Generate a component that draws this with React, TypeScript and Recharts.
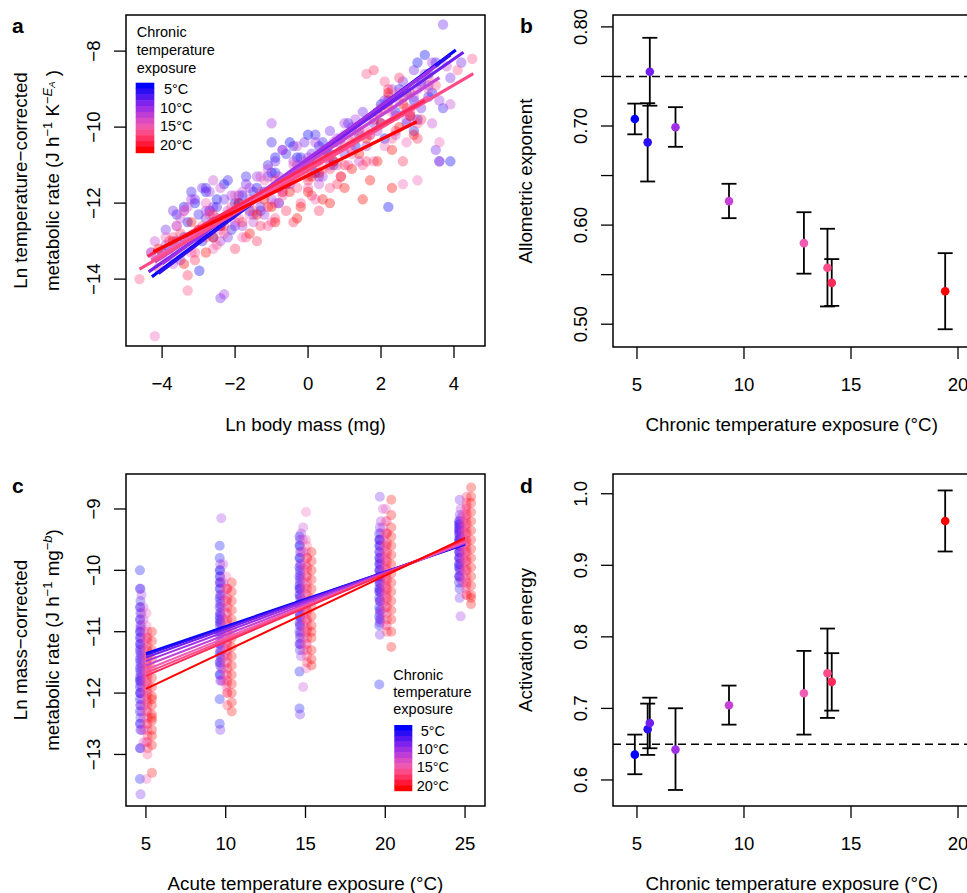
import React from 'react';
import { ScatterChart, Scatter, XAxis, YAxis, ReferenceArea, ReferenceLine, ErrorBar } from 'recharts';

const FONT = '"Liberation Sans", Arial, Helvetica, sans-serif';
const TICK_FS = 18.6;
const TITLE_FS = 18.8;
const LEG_FS = 14.5;

// Chronic temperature of each population (°C) and its colour
const chronicTemps = [4.9, 5.5, 5.6, 6.8, 9.3, 12.8, 13.9, 14.1, 19.4];
const groupColors = ['#0000FF', '#2C0EF2', '#701FF0', '#A030E6', '#C442D4', '#F05CB4', '#FF4C88', '#FF2A5A', '#FF0000'];
const legendBands = ['#0000FF', '#2A0DF3', '#5516F0', '#7E22EE', '#A02FE4', '#BE3DD6', '#DA4CC4', '#EE58AE', '#FA4C8A', '#FF3262', '#FF1838', '#FF0000'];
const legendLabels = ['5°C', '10°C', '15°C', '20°C'];

// Panel a: ln body mass (x) vs ln temperature-corrected metabolic rate (y), pairs per population
const massPoints: number[][] = [
  [-4.0, -13.3, -3.6, -13.0, -3.3, -12.5, -3.1, -12.0, -2.98, -13.78, -2.9, -12.8, -2.7, -12.2, -2.5, -11.9, -2.4, -12.6, -2.1, -12.3, -1.8, -11.8, -1.4, -11.6, -1.0, -11.2, -0.6, -11.5, -0.3, -10.8, 0.0, -10.2, 0.2, -11.2, 0.5, -10.6, 0.9, -10.3, 2.2, -12.1, 2.4, -9.6, 2.7, -9.1, 3.0, -9.8, 3.3, -8.6, 3.6, -10.9, 3.9, -10.9, 3.2, -8.1,
    -3.4, -12.1, -3.2, -12.9, -2.8, -11.7, -2.6, -12.5, -2.3, -11.5, -2.0, -12.0, -1.6, -12.2, -1.2, -11.7, -0.9, -10.8, -0.5, -10.4, -0.2, -11.1, 0.3, -10.5, 0.7, -11.0, 1.3, -10.5, 2.0, -9.4, 2.9, -9.3, 3.4, -9.1, -0.8, -12.0, 3.0, -8.3, 2.1, -10.3],
  [-3.8, -13.2, -3.4, -12.9, -3.0, -12.3, -2.8, -11.6, -2.6, -12.9, -2.3, -12.4, -2.2, -11.4, -1.9, -12.0, -1.5, -11.7, -1.1, -11.0, -0.8, -11.6, -0.4, -10.5, 0.1, -11.0, 0.4, -10.4, 0.7, -10.9, 1.1, -9.9, 2.0, -9.9, 2.5, -9.0, 2.9, -10.1, 3.3, -9.2, 3.5, -8.3,
    -3.6, -12.3, -3.2, -11.7, -2.9, -13.0, -2.5, -12.1, -2.1, -12.7, -1.7, -11.3, -1.3, -12.2, -0.9, -11.2, -0.6, -10.7, -0.2, -10.8, 0.2, -10.2, 0.6, -10.7, 1.4, -10.2, 2.2, -9.3, 2.7, -9.9, 3.1, -8.8, 3.7, -9.5, -1.0, -10.4],
  [-4.3, -13.3, -3.9, -12.7, -3.5, -13.5, -3.1, -11.9, -2.8, -12.4, -2.4, -14.5, -2.3, -11.9, -2.0, -12.6, -1.7, -11.5, -1.3, -12.1, -0.9, -10.9, -0.5, -11.5, -0.1, -10.4, 0.3, -11.3, 0.6, -10.1, 1.0, -10.7, 1.5, -9.6, 2.1, -9.3, 2.6, -8.8, 3.1, -9.5, 3.7, -7.3, 4.2, -8.3, 3.5, -10.6,
    -3.7, -12.2, -3.3, -12.9, -2.9, -11.6, -2.6, -12.1, -2.2, -12.9, -1.9, -11.8, -1.5, -12.3, -1.1, -11.3, -0.7, -10.6, -0.3, -11.0, 0.1, -10.7, 0.8, -10.4, 1.2, -10.0, 1.8, -9.9, 2.4, -9.7, 2.9, -8.5, 3.3, -8.9, 3.9, -8.7],
  [-3.9, -13.1, -3.4, -12.2, -3.0, -12.9, -2.7, -11.7, -2.5, -12.4, -2.1, -11.8, -1.8, -12.6, -1.4, -11.3, -1.0, -11.9, -0.7, -10.6, -0.2, -11.1, 0.2, -10.4, 0.6, -11.0, 1.0, -9.9, 1.6, -10.5, 2.3, -9.0, 2.8, -9.7, 3.2, -8.6, 3.6, -9.3, -2.3, -14.4,
    -3.6, -12.6, -3.2, -11.9, -2.8, -12.2, -2.4, -13.0, -2.0, -12.2, -1.6, -11.6, -1.2, -12.3, -0.8, -11.3, -0.4, -10.9, 0.0, -10.8, 0.4, -11.3, 0.8, -10.3, 1.3, -9.8, 1.9, -10.1, 2.5, -9.3, 3.0, -9.0, 3.4, -8.3, -1.0, -9.9],
  [-4.2, -13.0, -3.7, -13.6, -3.3, -12.1, -2.9, -12.7, -2.6, -11.4, -2.2, -12.2, -1.8, -11.7, -1.5, -12.5, -1.1, -11.1, -0.7, -11.7, -0.3, -10.5, 0.1, -11.2, 0.5, -10.8, 1.0, -10.2, 1.4, -10.9, 1.9, -9.6, 2.4, -10.2, 2.9, -9.2, 3.4, -9.9, 3.8, -8.4, 3.6, -10.9,
    -3.5, -12.4, -3.1, -12.9, -2.7, -12.2, -2.4, -11.6, -2.0, -12.5, -1.6, -11.9, -1.3, -11.3, -0.9, -12.0, -0.5, -11.3, -0.1, -10.9, 0.3, -11.5, 0.7, -10.4, 1.2, -10.6, 1.7, -10.2, 2.2, -9.2, 2.7, -9.8, 3.1, -8.9, 3.9, -9.4],
  [-4.3, -13.3, -4.2, -15.5, -3.6, -12.6, -3.2, -13.3, -2.8, -12.0, -2.4, -12.7, -2.0, -11.8, -1.6, -12.3, -1.2, -11.4, -0.8, -12.0, -0.4, -11.0, 0.0, -11.6, 0.4, -10.6, 0.9, -11.3, 1.3, -10.3, 1.8, -10.9, 2.3, -9.6, 2.7, -10.4, 3.0, -11.4, 3.3, -9.0, 3.6, -10.4,
    -3.9, -12.9, -3.4, -12.2, -3.0, -12.7, -2.6, -13.2, -2.2, -12.3, -1.8, -12.9, -1.4, -11.9, -1.0, -12.5, -0.6, -11.5, -0.2, -11.2, 0.2, -11.9, 0.6, -10.9, 1.1, -11.0, 1.6, -10.1, 2.1, -10.5, 2.5, -9.1, 2.9, -9.8, 2.6, -11.5],
  [-4.62, -14.0, -4.0, -13.4, -3.3, -14.3, -2.9, -12.6, -2.5, -13.1, -2.1, -12.1, -1.7, -12.9, -1.3, -11.7, -0.9, -12.4, -0.5, -11.3, -0.2, -12.0, 0.2, -10.8, 0.6, -11.6, 1.0, -10.5, 1.5, -11.0, 1.9, -9.6, 2.3, -10.3, 2.6, -9.2, 3.0, -9.9, 3.5, -8.9, 4.1, -8.5, 4.5, -8.2, 2.1, -8.8,
    -3.7, -12.9, -3.1, -13.3, -2.7, -12.3, -2.3, -12.8, -1.9, -12.4, -1.5, -12.2, -1.1, -12.6, -0.7, -11.8, -0.3, -11.6, 0.0, -11.3, 0.4, -11.1, 0.8, -11.0, 1.2, -10.7, 1.7, -10.2, 2.2, -9.5, 2.8, -9.6, 3.3, -8.7, 1.6, -8.6],
  [-4.1, -13.7, -3.5, -12.8, -3.1, -13.5, -2.6, -12.3, -2.0, -13.2, -1.6, -12.0, -1.3, -12.6, -0.9, -11.4, -0.6, -12.2, -0.2, -11.1, 0.1, -11.8, 0.4, -10.7, 0.8, -11.5, 1.2, -10.4, 1.6, -10.9, 2.0, -9.5, 2.4, -10.1, 2.8, -9.1, 3.1, -9.8, 2.6, -10.9, 1.8, -8.5, 2.5, -8.7, 2.2, -9.0,
    -3.8, -13.0, -3.3, -13.9, -2.8, -12.9, -2.3, -12.6, -1.8, -12.5, -1.4, -13.0, -1.1, -12.1, -0.7, -11.7, -0.4, -12.5, 0.0, -11.4, 0.3, -12.2, 0.6, -11.1, 1.0, -11.0, 1.4, -10.1, 1.8, -9.8, 2.2, -9.4, 2.7, -9.5, 3.0, -10.3],
  [-4.1, -13.2, -3.4, -13.6, -3.0, -12.7, -2.6, -12.9, -2.1, -12.3, -1.6, -12.8, -1.2, -11.9, -0.9, -12.5, -0.5, -11.7, -0.2, -12.1, 0.1, -11.3, 0.4, -11.9, 0.7, -10.9, 1.0, -11.6, 1.4, -10.7, 1.7, -11.4, 2.0, -9.9, 2.3, -10.6, 2.6, -9.4, 2.9, -10.2, 2.3, -11.6,
    -3.7, -13.0, -3.2, -12.5, -2.8, -13.3, -2.4, -12.6, -1.9, -12.0, -1.4, -12.3, -1.0, -12.1, -0.7, -11.5, -0.3, -12.4, 0.0, -11.7, 0.3, -11.2, 0.6, -12.0, 0.9, -11.3, 1.2, -11.1, 1.6, -10.3, 1.9, -10.9, 2.2, -9.1, 2.5, -10.0, 2.8, -9.7, 1.5, -11.9],
];
// Panel a fitted lines: [x start, y start, x end, y end]
const massLines: number[][] = [
  [-4.28, -13.94, 4.05, -7.97],
  [-4.1, -13.85, 3.9, -8.1],
  [-4.37, -13.81, 4.26, -8.03],
  [-4.0, -13.6, 3.5, -8.4],
  [-4.2, -13.55, 3.6, -8.7],
  [-4.3, -13.5, 3.3, -9.2],
  [-4.62, -13.74, 4.53, -8.59],
  [-4.4, -13.4, 3.2, -9.3],
  [-4.24, -13.28, 2.98, -9.86],
];

// Panel c: acute temperature (x) vs ln mass-corrected metabolic rate (y); per population, per acute temperature
const acuteTemps = [5, 10, 15, 20, 25];
const acutePoints: number[][][] = [
  [[-10.0, -10.6, -11.0, -11.3, -11.6, -11.9, -12.3, -12.9, -13.4, -10.3, -10.8, -11.1, -11.45, -11.75, -12.1, -12.5, -11.2, -11.8, -12.0],
   [-9.6, -9.8, -10.3, -10.6, -10.9, -11.2, -11.5, -12.1, -12.5, -10.0, -10.2, -10.45, -10.75, -11.05, -11.35, -11.7, -10.1, -10.8],
   [-9.45, -9.8, -10.1, -10.4, -10.7, -11.0, -11.65, -12.25, -9.6, -9.95, -10.25, -10.55, -10.85, -11.2, -10.3, -10.6],
   [-9.4, -9.7, -9.9, -10.1, -10.3, -10.6, -10.9, -11.86, -9.5, -9.8, -10.0, -10.2, -10.45, -10.75, -9.6, -10.35],
   [-9.2, -9.35, -9.5, -9.7, -9.9, -10.1, -9.25, -9.4, -9.55, -9.8, -9.95, -9.3, -9.6, -10.2]],
  [[-10.5, -10.9, -11.2, -11.5, -11.8, -12.2, -12.6, -10.7, -11.0, -11.35, -11.65, -12.0, -12.4],
   [-10.0, -10.4, -10.7, -11.0, -11.4, -11.7, -10.2, -10.55, -10.85, -11.2, -11.55],
   [-9.6, -10.0, -10.3, -10.6, -10.9, -11.3, -9.8, -10.15, -10.45, -10.75, -11.1],
   [-9.5, -9.8, -10.0, -10.2, -10.5, -10.8, -9.6, -9.9, -10.1, -10.35, -10.65],
   [-9.25, -9.45, -9.6, -9.8, -10.0, -10.3, -9.35, -9.5, -9.7, -9.9, -10.1]],
  [[-10.3, -10.8, -11.1, -11.4, -11.7, -12.0, -12.9, -13.65, -10.6, -10.95, -11.25, -11.55, -11.85, -12.2, -12.5],
   [-9.9, -10.3, -10.7, -11.0, -11.3, -11.8, -12.6, -10.1, -10.5, -10.85, -11.15, -11.5],
   [-9.5, -9.9, -10.2, -10.6, -10.9, -11.2, -12.35, -9.7, -10.05, -10.4, -10.75, -11.05],
   [-8.8, -9.3, -9.7, -10.0, -10.3, -10.7, -11.05, -9.5, -9.85, -10.15, -10.5, -10.85],
   [-8.85, -9.2, -9.4, -9.6, -9.8, -10.1, -10.45, -9.1, -9.3, -9.5, -9.7, -9.95]],
  [[-10.4, -10.9, -11.3, -11.6, -11.9, -12.3, -10.7, -11.1, -11.45, -11.75, -12.1, -12.6],
   [-9.15, -10.2, -10.6, -10.9, -11.3, -11.6, -10.4, -10.75, -11.1, -11.45, -11.8],
   [-9.4, -9.9, -10.3, -10.6, -11.0, -11.4, -9.7, -10.1, -10.45, -10.8, -11.2],
   [-9.2, -9.6, -9.9, -10.2, -10.5, -10.8, -9.4, -9.75, -10.05, -10.35, -10.65],
   [-9.0, -9.3, -9.5, -9.7, -10.0, -10.75, -9.15, -9.4, -9.6, -9.85, -10.15]],
  [[-10.6, -11.0, -11.4, -11.7, -12.0, -12.4, -12.8, -10.8, -11.2, -11.55, -11.85, -12.2, -12.6],
   [-9.9, -10.4, -10.8, -11.1, -11.4, -11.8, -10.2, -10.6, -10.95, -11.25, -11.6],
   [-9.3, -9.7, -10.2, -10.5, -10.9, -11.3, -11.9, -9.5, -9.95, -10.35, -10.7, -11.1],
   [-9.0, -9.5, -9.8, -10.1, -10.4, -10.7, -9.3, -9.65, -9.95, -10.25, -10.55],
   [-9.1, -9.3, -9.5, -9.7, -9.9, -10.2, -9.2, -9.4, -9.6, -9.8, -10.05]],
  [[-10.7, -11.1, -11.5, -11.8, -12.1, -12.5, -13.4, -10.9, -11.3, -11.65, -11.95, -12.3, -12.8],
   [-10.1, -10.5, -10.9, -11.2, -11.5, -11.9, -10.3, -10.7, -11.05, -11.35, -11.7],
   [-9.05, -9.7, -10.1, -10.4, -10.8, -11.2, -11.6, -9.5, -9.9, -10.25, -10.6, -11.0],
   [-9.0, -9.4, -9.8, -10.1, -10.4, -10.9, -9.2, -9.6, -9.95, -10.25, -10.6],
   [-9.0, -9.3, -9.5, -9.7, -10.0, -10.3, -9.15, -9.4, -9.6, -9.85, -10.15]],
  [[-11.0, -11.3, -11.6, -11.9, -12.2, -12.6, -13.0, -11.15, -11.45, -11.75, -12.05, -12.4, -12.8],
   [-10.3, -10.7, -11.0, -11.3, -11.7, -12.0, -10.5, -10.85, -11.15, -11.5, -11.85],
   [-9.6, -10.0, -10.4, -10.7, -11.0, -11.4, -9.8, -10.2, -10.55, -10.85, -11.2],
   [-9.2, -9.6, -9.9, -10.2, -10.5, -10.9, -9.4, -9.75, -10.05, -10.35, -10.7],
   [-8.9, -9.2, -9.5, -9.8, -10.1, -10.4, -9.05, -9.35, -9.65, -9.95, -10.25]],
  [[-11.1, -11.4, -11.7, -12.0, -12.3, -12.7, -11.25, -11.55, -11.85, -12.15, -12.5, -12.9],
   [-10.3, -10.6, -11.0, -11.4, -11.8, -12.2, -10.45, -10.8, -11.2, -11.6, -12.0],
   [-9.8, -10.1, -10.5, -10.8, -11.1, -11.5, -9.95, -10.3, -10.65, -10.95, -11.3],
   [-9.4, -9.7, -10.0, -10.3, -10.6, -11.0, -9.55, -9.85, -10.15, -10.45, -10.8],
   [-8.8, -9.1, -9.4, -9.7, -10.0, -10.4, -8.95, -9.25, -9.55, -9.85, -10.2]],
  [[-11.0, -11.3, -11.6, -11.9, -12.2, -12.45, -12.6, -12.85, -13.3, -11.15, -11.45, -11.75, -12.05, -12.35, -12.7, -12.4, -12.1],
   [-10.2, -10.5, -10.8, -11.1, -11.4, -11.7, -12.0, -12.3, -10.35, -10.65, -10.95, -11.25, -11.55, -11.85, -12.15],
   [-9.7, -10.0, -10.3, -10.6, -10.9, -11.1, -11.45, -11.55, -9.85, -10.15, -10.45, -10.75, -11.0, -11.3],
   [-8.85, -9.3, -9.6, -9.9, -10.2, -10.5, -10.8, -11.25, -9.1, -9.45, -9.75, -10.05, -10.35, -10.65, -11.0],
   [-8.65, -8.9, -9.2, -9.5, -9.8, -10.1, -10.4, -10.55, -8.8, -9.05, -9.35, -9.65, -9.95, -10.25, -10.45]],
];
// Panel c fitted lines: value at 5 °C and at 25 °C
const acuteLineEnds: number[][] = [
  [-11.35, -9.58], [-11.38, -9.57], [-11.42, -9.56], [-11.48, -9.55], [-11.55, -9.55],
  [-11.62, -9.53], [-11.67, -9.52], [-11.72, -9.5], [-11.93, -9.47],
];

// Panel b: allometric exponent with interval
const allometricExponent = [0.707, 0.6835, 0.7548, 0.6987, 0.6242, 0.5818, 0.5569, 0.5417, 0.5333];
const allometricLow = [0.6916, 0.644, 0.7205, 0.679, 0.607, 0.551, 0.5179, 0.5185, 0.4949];
const allometricHigh = [0.7226, 0.723, 0.789, 0.719, 0.6417, 0.613, 0.5963, 0.5657, 0.5717];
const allometricRef = 0.75;

// Panel d: activation energy with interval
const activationEnergy = [0.6354, 0.6709, 0.6797, 0.6424, 0.7045, 0.7212, 0.7492, 0.7371, 0.9618];
const activationLow = [0.608, 0.635, 0.6443, 0.586, 0.6773, 0.6634, 0.6867, 0.6969, 0.9193];
const activationHigh = [0.6634, 0.7067, 0.715, 0.7002, 0.7319, 0.7804, 0.8116, 0.7772, 1.0046];
const activationRef = 0.65;

// ---- build tables ----
const massData = massPoints.map((arr) => {
  const out: { x: number; y: number }[] = [];
  for (let i = 0; i < arr.length; i += 2) out.push({ x: arr[i], y: arr[i + 1] });
  return out;
});
const massLineData = massLines.map((l) => [{ x: l[0], y: l[1] }, { x: l[2], y: l[3] }]);

const jitter = (t: number) => (t - 12.15) * 0.052;
const acuteData = acutePoints.map((byTemp, g) => {
  const out: { x: number; y: number }[] = [];
  byTemp.forEach((vals, ti) => vals.forEach((v) => out.push({ x: acuteTemps[ti] + jitter(chronicTemps[g]), y: v })));
  return out;
});
const acuteLineData = acuteLineEnds.map((l) => [{ x: acuteTemps[0], y: l[0] }, { x: acuteTemps[acuteTemps.length - 1], y: l[1] }]);

const bData = chronicTemps.map((t, i) => ({ x: t, y: allometricExponent[i], err: [allometricExponent[i] - allometricLow[i], allometricHigh[i] - allometricExponent[i]], c: i }));
const dData = chronicTemps.map((t, i) => ({ x: t, y: activationEnergy[i], err: [activationEnergy[i] - activationLow[i], activationHigh[i] - activationEnergy[i]], c: i }));

const minus = (s: string) => s.replace('-', '\u2212');

const makeXTick = (digits: number) => (p: any) => (
  <text x={p.x} y={p.y + 31.6} textAnchor="middle" fontFamily={FONT} fontSize={TICK_FS} fill="#000">
    {minus(Number(p.payload.value).toFixed(digits))}
  </text>
);
const makeYTick = (digits: number, labelled?: (v: number) => boolean) => (p: any) => {
  const v = Number(p.payload.value);
  if (labelled && !labelled(v)) return <g />;
  return (
    <text transform={`translate(${p.x - 14.4},${p.y}) rotate(-90)`} textAnchor="middle" fontFamily={FONT} fontSize={TICK_FS} fill="#000">
      {minus(v.toFixed(digits))}
    </text>
  );
};

const tickLineStyle = { stroke: '#000', strokeWidth: 1.3 };

const dot = (color: string, r: number, op: number) => (p: any) => <circle cx={p.cx} cy={p.cy} r={r} fill={color} fillOpacity={op} />;
const noShape = () => <g />;

function PanelA() {
  const xd = [-4.99, 4.85];
  const yd = [-15.76, -7.05];
  return (
    <ScatterChart width={500} height={440} margin={{ top: 15, right: 15, bottom: 0, left: 0 }}>
      <XAxis type="number" dataKey="x" domain={xd} allowDataOverflow ticks={[-4, -2, 0, 2, 4]} interval={0} axisLine={false} tickLine={tickLineStyle} tickSize={12} tickMargin={0} height={94} tick={makeXTick(0)} />
      <YAxis type="number" dataKey="y" domain={yd} allowDataOverflow ticks={[-14, -12, -10, -8]} interval={0} axisLine={false} tickLine={tickLineStyle} tickSize={12} tickMargin={0} width={126} tick={makeYTick(0)} />
      {massData.map((d, g) => (
        <Scatter key={'p' + g} data={d} shape={dot(groupColors[g], 5.2, 0.36)} isAnimationActive={false} />
      ))}
      {massLineData.map((d, g) => (
        <Scatter key={'l' + g} data={d} shape={noShape} line={{ stroke: groupColors[g], strokeWidth: 3.2 }} isAnimationActive={false} />
      ))}
      <ReferenceArea x1={xd[0]} x2={xd[1]} y1={yd[0]} y2={yd[1]} fill="none" fillOpacity={0} stroke="#000" strokeWidth={1.5} ifOverflow="visible" />
    </ScatterChart>
  );
}

function PanelC() {
  const xd = [3.75, 26.25];
  const yd = [-13.84, -8.43];
  return (
    <ScatterChart width={500} height={453} margin={{ top: 34, right: 15, bottom: 0, left: 0 }}>
      <XAxis type="number" dataKey="x" domain={xd} allowDataOverflow ticks={acuteTemps} interval={0} axisLine={false} tickLine={tickLineStyle} tickSize={12} tickMargin={0} height={87} tick={makeXTick(0)} />
      <YAxis type="number" dataKey="y" domain={yd} allowDataOverflow ticks={[-13, -12, -11, -10, -9]} interval={0} axisLine={false} tickLine={tickLineStyle} tickSize={12} tickMargin={0} width={126} tick={makeYTick(0)} />
      {acuteData.map((d, g) => (
        <Scatter key={'p' + g} data={d} shape={dot(groupColors[g], 5, 0.3)} isAnimationActive={false} />
      ))}
      {acuteLineData.map((d, g) => (
        <Scatter key={'l' + g} data={d} shape={noShape} line={{ stroke: groupColors[g], strokeWidth: 2 }} isAnimationActive={false} />
      ))}
      <ReferenceArea x1={xd[0]} x2={xd[1]} y1={yd[0]} y2={yd[1]} fill="none" fillOpacity={0} stroke="#000" strokeWidth={1.5} ifOverflow="visible" />
    </ScatterChart>
  );
}

function EstimatePanel({ data, yd, yticks, digits, labelled, refY, height, top, xAxisH }: any) {
  const xd = [3.88, 20.56];
  return (
    <ScatterChart width={500} height={height} margin={{ top, right: 17, bottom: 0, left: 0 }}>
      <XAxis type="number" dataKey="x" domain={xd} allowDataOverflow ticks={[5, 10, 15, 20]} interval={0} axisLine={false} tickLine={tickLineStyle} tickSize={12} tickMargin={0} height={xAxisH} tick={makeXTick(0)} />
      <YAxis type="number" dataKey="y" domain={yd} allowDataOverflow ticks={yticks} interval={0} axisLine={false} tickLine={tickLineStyle} tickSize={12} tickMargin={0} width={126} tick={makeYTick(digits, labelled)} />
      <ReferenceLine y={refY} stroke="#000" strokeWidth={1.4} strokeDasharray="8 5" />
      <Scatter data={data} isAnimationActive={false} shape={(p: any) => <circle cx={p.cx} cy={p.cy} r={4.3} fill={groupColors[p.payload.c]} />}>
        <ErrorBar dataKey="err" direction="y" width={7.5} stroke="#000" strokeWidth={1.8} />
      </Scatter>
      <ReferenceArea x1={xd[0]} x2={xd[1]} y1={yd[0]} y2={yd[1]} fill="none" fillOpacity={0} stroke="#000" strokeWidth={1.5} ifOverflow="visible" />
    </ScatterChart>
  );
}

const txt = { fontFamily: FONT, fill: '#000' } as const;

function ColorLegend({ y, tx, lineGap, barX, barY, barW, barH, labX, labY }: any) {
  const bh = barH / legendBands.length;
  return (
    <g>
      {['Chronic', 'temperature', 'exposure'].map((s, i) => (
        <text key={s} x={tx} y={y + i * lineGap} fontSize={LEG_FS} {...txt}>{s}</text>
      ))}
      {legendBands.map((c, i) => (
        <rect key={i} x={barX} y={barY + i * bh} width={barW} height={bh + 0.5} fill={c} />
      ))}
      {legendLabels.map((s, i) => (
        <text key={s} x={labX + (i === 0 ? 4 : 0)} y={labY[i]} fontSize={LEG_FS} {...txt}>{s}</text>
      ))}
    </g>
  );
}

function Overlay() {
  const sup = { fontSize: 13 };
  return (
    <svg width={967} height={893} style={{ position: 'absolute', left: 0, top: 0, pointerEvents: 'none' }}>
      <text x={12} y={33} fontSize={21} fontWeight="bold" {...txt}>a</text>
      <text x={520} y={33} fontSize={21} fontWeight="bold" {...txt}>b</text>
      <text x={12} y={493} fontSize={21} fontWeight="bold" {...txt}>c</text>
      <text x={520} y={493} fontSize={21} fontWeight="bold" {...txt}>d</text>

      <text x={305.5} y={430.5} textAnchor="middle" fontSize={TITLE_FS} {...txt}>Ln body mass (mg)</text>
      <text x={791.7} y={430.5} textAnchor="middle" fontSize={TITLE_FS} {...txt}>Chronic temperature exposure (°C)</text>
      <text x={305.5} y={890} textAnchor="middle" fontSize={TITLE_FS} {...txt}>Acute temperature exposure (°C)</text>
      <text x={791.7} y={890} textAnchor="middle" fontSize={TITLE_FS} {...txt}>Chronic temperature exposure (°C)</text>

      <text transform="translate(27,180.5) rotate(-90)" textAnchor="middle" fontSize={TITLE_FS} {...txt}>Ln temperature−corrected</text>
      <text transform="translate(59,180.5) rotate(-90)" textAnchor="middle" fontSize={TITLE_FS} {...txt}>
        metabolic rate (J h<tspan dy={-7} {...sup}>−1</tspan><tspan dy={7}> K</tspan><tspan dy={-7} {...sup}>−</tspan><tspan {...sup} fontStyle="italic">E</tspan><tspan dy={3} fontSize={9.5} fontStyle="italic">A</tspan><tspan dy={4}> )</tspan>
      </text>
      <text transform="translate(532,181) rotate(-90)" textAnchor="middle" fontSize={TITLE_FS} {...txt}>Allometric exponent</text>

      <text transform="translate(27,640) rotate(-90)" textAnchor="middle" fontSize={TITLE_FS} {...txt}>Ln mass−corrected</text>
      <text transform="translate(59,640) rotate(-90)" textAnchor="middle" fontSize={TITLE_FS} {...txt}>
        metabolic rate (J h<tspan dy={-7} {...sup}>−1</tspan><tspan dy={7}> mg</tspan><tspan dy={-7} {...sup}>−</tspan><tspan {...sup} fontStyle="italic">b</tspan><tspan dy={7}>)</tspan>
      </text>
      <text transform="translate(532,640) rotate(-90)" textAnchor="middle" fontSize={TITLE_FS} {...txt}>Activation energy</text>

      <ColorLegend tx={136.7} y={36.7} lineGap={18.3} barX={135.7} barY={82.7} barW={18.6} barH={70} labX={160} labY={[94, 112.7, 131.3, 150]} />
      <ColorLegend tx={393.3} y={679.5} lineGap={17.3} barX={394.3} barY={725} barW={18} barH={65.7} labX={416.7} labY={[736, 754, 772.3, 790.7]} />
    </svg>
  );
}

export default function App() {
  return (
    <div style={{ position: 'absolute', left: 0, top: 0, width: 967, height: 893, overflow: 'hidden', background: '#fff' }}>
      <div style={{ position: 'absolute', left: 0, top: 0 }}><PanelA /></div>
      <div style={{ position: 'absolute', left: 487, top: 0 }}>
        <EstimatePanel data={bData} yd={[0.477, 0.812]} yticks={[0.5, 0.55, 0.6, 0.65, 0.7, 0.75, 0.8]} digits={2}
          labelled={(v: number) => Math.abs(Math.round(v * 100)) % 10 === 0} refY={allometricRef} height={440} top={15} xAxisH={93} />
      </div>
      <div style={{ position: 'absolute', left: 0, top: 440 }}><PanelC /></div>
      <div style={{ position: 'absolute', left: 487, top: 440 }}>
        <EstimatePanel data={dData} yd={[0.5636, 1.0276]} yticks={[0.6, 0.7, 0.8, 0.9, 1.0]} digits={1} refY={activationRef} height={453} top={34} xAxisH={87} />
      </div>
      <Overlay />
    </div>
  );
}
